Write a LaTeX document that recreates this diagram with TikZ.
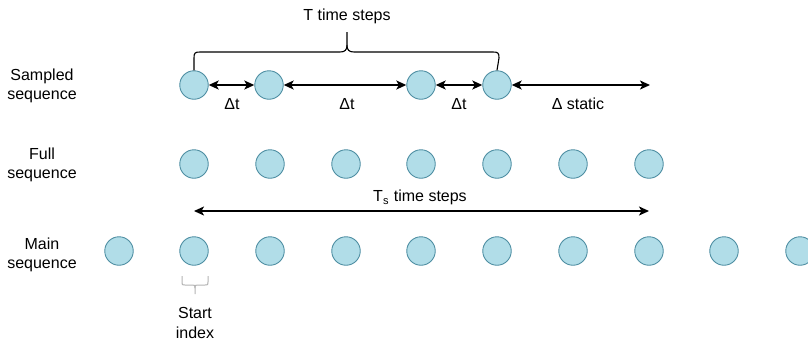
\documentclass[tikz,border=0pt]{standalone}
\usepackage{fontspec}
\setmainfont{Liberation Sans}
\usetikzlibrary{arrows.meta}
\definecolor{cfill}{HTML}{B1DDE8}
\definecolor{cdraw}{HTML}{4F8FA3}
\definecolor{bracegray}{HTML}{B3B3B3}
\begin{document}
\begin{tikzpicture}[x=1pt,y=-1pt,
  dot/.style={circle,draw=cdraw,fill=cfill,line width=0.9pt,minimum size=28.5pt,inner sep=0pt},
  lbl/.style={font=\fontsize{16}{19.5}\selectfont,align=center,inner sep=0pt},
  dbl/.style={line width=1.5pt,{Stealth[length=10pt,width=9pt,inset=2.5pt]}-{Stealth[length=10pt,width=9pt,inset=2.5pt]}},
  brc/.style={line width=1.1pt,black},
]
\useasboundingbox (0,0) rectangle (808,341);
% rows
\foreach \i/\x in {1/194,2/269,3/421,4/497}
  \node[dot] (s\i) at (\x,85) {};
\foreach \i/\x in {1/194,2/270,3/346,4/421,5/497,6/573,7/649}
  \node[dot] (f\i) at (\x,164) {};
\foreach \i/\x in {1/119,2/194,3/270,4/346,5/421,6/497,7/573,8/649,9/724,10/800}
  \node[dot] (m\i) at (\x,251) {};
% row labels
\node[lbl] (lsamp) at (42,86) {Sampled\\sequence};
\node[lbl] (lfull) at (42,165) {Full\\sequence};
\node[lbl] (lmain) at (42,255) {Main\\sequence};
% sampled arrows
\draw[dbl] (s1) -- (s2);
\draw[dbl] (s2) -- (s3);
\draw[dbl] (s3) -- (s4);
\node[lbl] (d1) at (232,104) {\char"0394t};
\node[lbl] (d2) at (347,104) {\char"0394t};
\node[lbl] (d3) at (459,104) {\char"0394t};
\coordinate (send) at (650,85);
\draw[dbl] (s4) -- (send);
\node[lbl] (dstat) at (578,104) {\char"0394\ static};
% T brace
\draw[brc] (s1.north) -- (194,58) .. controls (194,53) and (195,52) .. (200,52)
  -- (340,52) .. controls (345,52) and (347,50) .. (347,45) -- (347,32);
\draw[brc] (s4.north) -- (499,58) .. controls (499,53) and (498,52) .. (493,52)
  -- (354,52) .. controls (349,52) and (347,50) .. (347,45);
\node[lbl] (ttxt) at (347,16) {T time steps};
% Ts arrow
\coordinate (tsl) at (194,211);
\coordinate (tsr) at (649,211);
\draw[dbl] (tsl) -- (tsr);
\node[lbl] (tstxt) at (420,197) {T\raisebox{-0.4ex}{\fontsize{11}{12}\selectfont s}\,\,time steps};
% start index brace
\draw[bracegray,line width=1pt] (182,276) -- (182,282) .. controls (182,285) .. (185,285)
  -- (192,285) .. controls (195,285) .. (195,288) -- (195,294);
\draw[bracegray,line width=1pt] (208,276) -- (208,282) .. controls (208,285) .. (205,285)
  -- (198,285) .. controls (195,285) .. (195,288);
\node[lbl] (stxt) at (195,323) {Start\\index};
\end{tikzpicture}
\end{document}
